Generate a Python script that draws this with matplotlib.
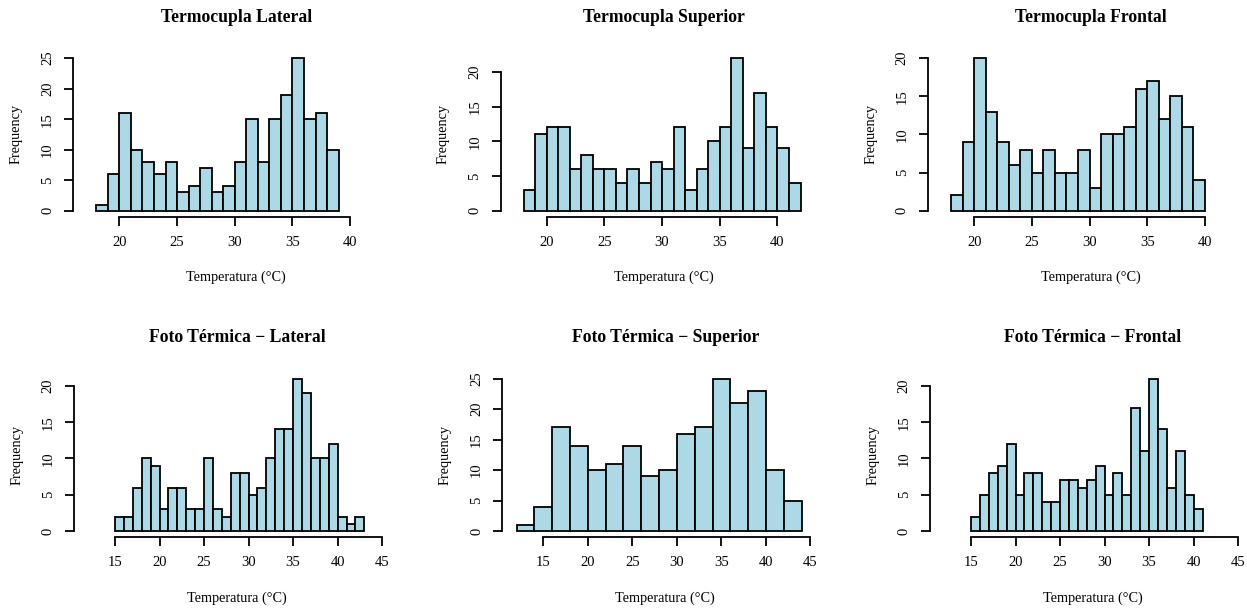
import numpy as np
import matplotlib
matplotlib.use("Agg")
import matplotlib.pyplot as plt

W, H = 1247, 608
DPI = 100

# ---------------- data ----------------
titles = ["Termocupla Lateral", "Termocupla Superior", "Termocupla Frontal",
          "Foto Térmica \u2212 Lateral", "Foto Térmica \u2212 Superior", "Foto Térmica \u2212 Frontal"]

tc_lateral_counts = [1, 6, 16, 10, 8, 6, 8, 3, 4, 7, 3, 4, 8, 15, 8, 15, 19, 25, 15, 16, 10]
tc_superior_counts = [3, 11, 12, 12, 6, 8, 6, 6, 4, 6, 4, 7, 6, 12, 3, 6, 10, 12, 22, 9, 17, 12, 9, 4]
tc_frontal_counts = [2, 9, 20, 13, 9, 6, 8, 5, 8, 5, 5, 8, 3, 10, 10, 11, 16, 17, 12, 15, 11, 4]
ft_lateral_counts = [2, 2, 6, 10, 9, 3, 6, 6, 3, 3, 10, 3, 2, 8, 8, 5, 6, 10, 14, 14, 21, 19, 10, 10, 12, 2, 1, 2]
ft_superior_counts = [1, 4, 17, 14, 10, 11, 14, 9, 10, 16, 17, 25, 21, 23, 10, 5]
ft_frontal_counts = [2, 5, 8, 9, 12, 5, 8, 8, 4, 4, 7, 7, 6, 7, 9, 5, 8, 5, 17, 11, 21, 14, 6, 11, 5, 3]

bin_starts = [18, 18, 18, 15, 12, 15]
bin_widths = [1, 1, 1, 1, 2, 1]

top_xticks = [20, 25, 30, 35, 40]
bottom_xticks = [15, 20, 25, 30, 35, 40, 45]

xlabel = "Temperatura (°C)"
ylabel = "Frequency"

all_counts = [tc_lateral_counts, tc_superior_counts, tc_frontal_counts,
              ft_lateral_counts, ft_superior_counts, ft_frontal_counts]

# ---------------- layout (pixels) ----------------
lefts_px = [73.2, 500.5, 928.0, 74.0, 502.3, 930.0]
ax_w_px = 326.0
rows_px = [(52.0, 216.8), (372.5, 537.2)]   # (top, bottom)
xlims = [(16.0, 44.25), (10.4, 47.0)]

plt.rcParams["font.family"] = ["Liberation Serif", "DejaVu Serif"]

fig = plt.figure(figsize=(W / DPI, H / DPI), dpi=DPI)
fig.patch.set_facecolor("white")

for i in range(6):
    row = 0 if i < 3 else 1
    top, bot = rows_px[row]
    left = lefts_px[i]
    ax = fig.add_axes([left / W, 1 - bot / H, ax_w_px / W, (bot - top) / H])
    counts = np.array(all_counts[i])
    edges = bin_starts[i] + bin_widths[i] * np.arange(len(counts) + 1)
    ax.bar(edges[:-1], counts, width=bin_widths[i], align="edge",
           color="#ADD8E6", edgecolor="black", linewidth=1.3)
    cmax = counts.max()
    ax.set_ylim(-0.04 * cmax, 1.04 * cmax)
    ax.set_xlim(*xlims[row])
    xt = top_xticks if row == 0 else bottom_xticks
    yt = list(range(0, int(cmax) // 5 * 5 + 1, 5))
    ax.set_xticks(xt)
    ax.set_yticks(yt)
    for s in ["top", "right"]:
        ax.spines[s].set_visible(False)
    for s in ["left", "bottom"]:
        ax.spines[s].set_linewidth(1.3)
    ax.spines["bottom"].set_bounds(xt[0], xt[-1])
    ax.spines["left"].set_bounds(yt[0], yt[-1])
    ax.tick_params(axis="both", length=6.3, width=1.3, labelsize=10.5, pad=7.5)
    ax.tick_params(axis="y", labelrotation=90)
    for lab in ax.get_yticklabels():
        lab.set_va("center")
    ax.patch.set_alpha(0)

    cx = (left + ax_w_px / 2) / W
    title_y = 17.5 if row == 0 else 338
    fig.text(cx, 1 - title_y / H, titles[i], ha="center", va="center",
             fontsize=12.7, fontweight="bold")
    xl_y = 277 if row == 0 else 598
    fig.text(cx, 1 - xl_y / H, xlabel, ha="center", va="center", fontsize=10.3)
    yl_x = left - 57
    fig.text(yl_x / W, 1 - ((top + bot) / 2) / H, ylabel, ha="center", va="center",
             rotation=90, fontsize=10.3)

fig.savefig("out.png", dpi=DPI, facecolor="white")
